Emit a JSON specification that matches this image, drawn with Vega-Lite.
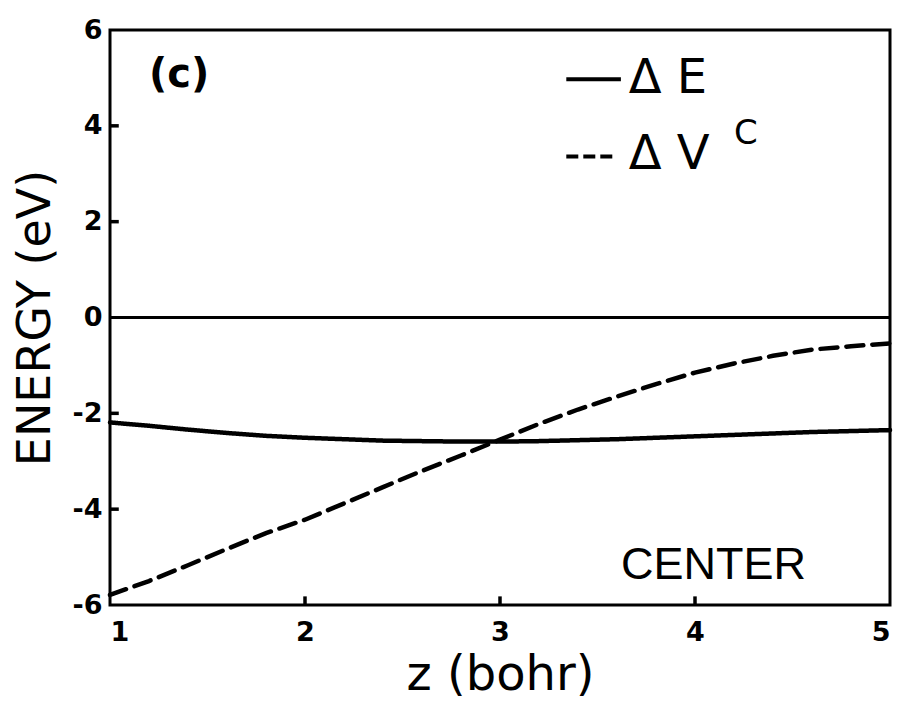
{
  "$schema": "https://vega.github.io/schema/vega-lite/v6.json",
  "width": 780,
  "height": 575,
  "autosize": {"type": "none"},
  "padding": {"left": 110, "top": 30, "right": 17, "bottom": 96},
  "background": "white",
  "config": {
    "view": {"stroke": "black", "strokeWidth": 3},
    "font": "DejaVu Sans",
    "axis": {
      "grid": false,
      "domain": false,
      "ticks": false,
      "labelColor": "black",
      "labelFont": "DejaVu Sans",
      "labelFontWeight": "bold",
      "labelFontSize": 27,
      "titleColor": "black",
      "titleFont": "DejaVu Sans",
      "titleFontWeight": "normal"
    }
  },
  "resolve": {"scale": {"strokeDash": "independent"}},
  "datasets": {
    "curves": [
      {"z": 1.0, "energy": -2.19, "series": "dE"},
      {"z": 1.2, "energy": -2.26, "series": "dE"},
      {"z": 1.4, "energy": -2.34, "series": "dE"},
      {"z": 1.6, "energy": -2.41, "series": "dE"},
      {"z": 1.8, "energy": -2.47, "series": "dE"},
      {"z": 2.0, "energy": -2.51, "series": "dE"},
      {"z": 2.2, "energy": -2.54, "series": "dE"},
      {"z": 2.4, "energy": -2.57, "series": "dE"},
      {"z": 2.6, "energy": -2.58, "series": "dE"},
      {"z": 2.8, "energy": -2.59, "series": "dE"},
      {"z": 3.0, "energy": -2.59, "series": "dE"},
      {"z": 3.2, "energy": -2.58, "series": "dE"},
      {"z": 3.4, "energy": -2.56, "series": "dE"},
      {"z": 3.6, "energy": -2.54, "series": "dE"},
      {"z": 3.8, "energy": -2.51, "series": "dE"},
      {"z": 4.0, "energy": -2.48, "series": "dE"},
      {"z": 4.2, "energy": -2.45, "series": "dE"},
      {"z": 4.4, "energy": -2.42, "series": "dE"},
      {"z": 4.6, "energy": -2.39, "series": "dE"},
      {"z": 4.8, "energy": -2.37, "series": "dE"},
      {"z": 5.0, "energy": -2.35, "series": "dE"},
      {"z": 1.0, "energy": -5.79, "series": "dVc"},
      {"z": 1.2, "energy": -5.5, "series": "dVc"},
      {"z": 1.4, "energy": -5.17, "series": "dVc"},
      {"z": 1.6, "energy": -4.83, "series": "dVc"},
      {"z": 1.8, "energy": -4.5, "series": "dVc"},
      {"z": 2.0, "energy": -4.22, "series": "dVc"},
      {"z": 2.2, "energy": -3.88, "series": "dVc"},
      {"z": 2.4, "energy": -3.54, "series": "dVc"},
      {"z": 2.6, "energy": -3.2, "series": "dVc"},
      {"z": 2.8, "energy": -2.88, "series": "dVc"},
      {"z": 3.0, "energy": -2.55, "series": "dVc"},
      {"z": 3.2, "energy": -2.22, "series": "dVc"},
      {"z": 3.4, "energy": -1.92, "series": "dVc"},
      {"z": 3.6, "energy": -1.65, "series": "dVc"},
      {"z": 3.8, "energy": -1.39, "series": "dVc"},
      {"z": 4.0, "energy": -1.15, "series": "dVc"},
      {"z": 4.2, "energy": -0.96, "series": "dVc"},
      {"z": 4.4, "energy": -0.8, "series": "dVc"},
      {"z": 4.6, "energy": -0.67, "series": "dVc"},
      {"z": 4.8, "energy": -0.6, "series": "dVc"},
      {"z": 5.0, "energy": -0.54, "series": "dVc"}
    ],
    "keys": [
      {"z": 3.34, "z2": 3.62, "energy": 4.97, "series": "dE"},
      {"z": 3.34, "z2": 3.6, "energy": 3.36, "series": "dVc"}
    ],
    "keyText": [
      {"z": 3.66, "energy": 4.97, "label": "Δ E"},
      {"z": 3.66, "energy": 3.4, "label": "Δ V"}
    ],
    "yTicks": [
      {"z": 1, "z2": 1.045, "energy": -4},
      {"z": 1, "z2": 1.045, "energy": -2},
      {"z": 1, "z2": 1.045, "energy": 2},
      {"z": 1, "z2": 1.045, "energy": 4}
    ],
    "xTicks": [
      {"z": 2, "energy": -6, "energy2": -5.82},
      {"z": 3, "energy": -6, "energy2": -5.82},
      {"z": 4, "energy": -6, "energy2": -5.82}
    ]
  },
  "layer": [
    {
      "data": {"values": [{"energy": 0}]},
      "mark": {"type": "rule", "color": "black", "strokeWidth": 3},
      "encoding": {"y": {"field": "energy", "type": "quantitative"}}
    },
    {
      "data": {"name": "yTicks"},
      "mark": {"type": "rule", "color": "black", "strokeWidth": 3.5},
      "encoding": {
        "x": {"field": "z", "type": "quantitative"},
        "x2": {"field": "z2"},
        "y": {"field": "energy", "type": "quantitative"}
      }
    },
    {
      "data": {"name": "xTicks"},
      "mark": {"type": "rule", "color": "black", "strokeWidth": 3.5},
      "encoding": {
        "x": {"field": "z", "type": "quantitative"},
        "y": {"field": "energy", "type": "quantitative"},
        "y2": {"field": "energy2"}
      }
    },
    {
      "data": {"name": "curves"},
      "mark": {"type": "line", "color": "black", "strokeWidth": 4.5, "strokeCap": "round"},
      "encoding": {
        "x": {
          "field": "z", "type": "quantitative",
          "scale": {"domain": [1, 5], "nice": false, "zero": false},
          "axis": {"values": [1, 2, 3, 4, 5], "format": "d", "title": "z (bohr)", "titleFontSize": 48, "labelPadding": 14, "titlePadding": 6}
        },
        "y": {
          "field": "energy", "type": "quantitative",
          "scale": {"domain": [-6, 6], "nice": false, "zero": false},
          "axis": {"values": [-6, -4, -2, 0, 2, 4, 6], "format": "d", "labelExpr": "replace(datum.label, '−', '-')", "title": "ENERGY (eV)", "titleFontSize": 46, "labelPadding": 8, "titlePadding": 13}
        },
        "detail": {"field": "series"},
        "strokeDash": {
          "field": "series", "type": "nominal",
          "scale": {"domain": ["dE", "dVc"], "range": [[1, 0], [17, 9]]},
          "legend": null
        }
      }
    },
    {
      "data": {"name": "keys"},
      "mark": {"type": "rule", "color": "black", "strokeWidth": 4},
      "encoding": {
        "x": {"field": "z", "type": "quantitative"},
        "x2": {"field": "z2"},
        "y": {"field": "energy", "type": "quantitative"},
        "strokeDash": {
          "field": "series", "type": "nominal",
          "scale": {"domain": ["dE", "dVc"], "range": [[1, 0], [12, 5]]},
          "legend": null
        }
      }
    },
    {
      "data": {"name": "keyText"},
      "mark": {"type": "text", "align": "left", "baseline": "middle", "fontSize": 48, "font": "DejaVu Sans", "color": "black"},
      "encoding": {
        "x": {"field": "z", "type": "quantitative"},
        "y": {"field": "energy", "type": "quantitative"},
        "text": {"field": "label"}
      }
    },
    {
      "data": {"values": [{"z": 4.2, "energy": 3.82, "label": "C"}]},
      "mark": {"type": "text", "align": "left", "baseline": "middle", "fontSize": 34, "font": "DejaVu Sans", "color": "black"},
      "encoding": {
        "x": {"field": "z", "type": "quantitative"},
        "y": {"field": "energy", "type": "quantitative"},
        "text": {"field": "label"}
      }
    },
    {
      "data": {"values": [{"z": 1.2, "energy": 5.07, "label": "(c)"}]},
      "mark": {"type": "text", "align": "left", "baseline": "middle", "fontSize": 40, "font": "DejaVu Sans", "fontWeight": "bold", "color": "black"},
      "encoding": {
        "x": {"field": "z", "type": "quantitative"},
        "y": {"field": "energy", "type": "quantitative"},
        "text": {"field": "label"}
      }
    },
    {
      "data": {"values": [{"z": 3.62, "energy": -5.16, "label": "CENTER"}]},
      "mark": {"type": "text", "align": "left", "baseline": "middle", "fontSize": 45, "font": "Liberation Sans", "color": "black"},
      "encoding": {
        "x": {"field": "z", "type": "quantitative"},
        "y": {"field": "energy", "type": "quantitative"},
        "text": {"field": "label"}
      }
    }
  ]
}
